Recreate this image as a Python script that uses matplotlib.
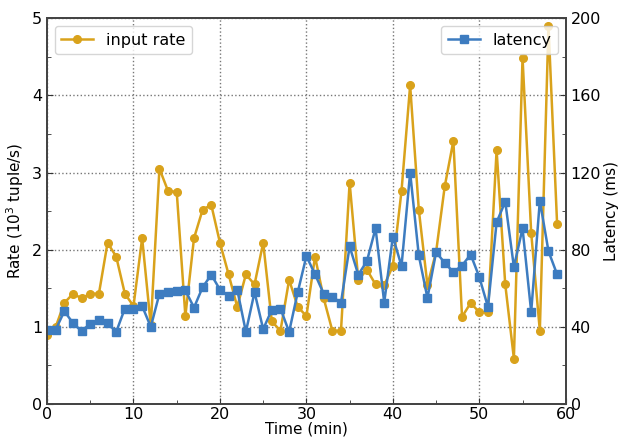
import matplotlib.pyplot as plt
import numpy as np
from matplotlib.ticker import MultipleLocator

# minutes 0..59
minutes = list(range(60))

input_rate = [0.90, 1.00, 1.31, 1.43, 1.37, 1.43, 1.43, 2.09, 1.91, 1.43,
              1.27, 2.15, 1.02, 3.05, 2.76, 2.75, 1.14, 2.15, 2.52, 2.58,
              2.09, 1.68, 1.26, 1.68, 1.55, 2.09, 1.07, 0.95, 1.61, 1.26,
              1.14, 1.91, 1.37, 0.95, 0.95, 2.87, 1.61, 1.74, 1.55, 1.54,
              1.79, 2.76, 4.13, 2.52, 1.54, 1.97, 2.82, 3.41, 1.13, 1.31,
              1.19, 1.19, 3.29, 1.55, 0.59, 4.49, 2.22, 0.95, 4.90, 2.33]

latency = [38.2, 38.6, 48.1, 42.0, 37.7, 41.7, 43.4, 42.0, 37.4, 49.5,
           49.5, 50.8, 40.0, 57.2, 57.9, 58.4, 58.9, 50.0, 60.6, 67.0,
           59.3, 56.0, 59.3, 37.4, 58.0, 38.8, 48.9, 49.5, 37.4, 58.0,
           76.7, 67.2, 57.2, 55.5, 52.6, 81.7, 67.0, 74.1, 91.1, 52.6,
           86.8, 71.5, 120.0, 77.0, 55.0, 78.7, 73.2, 68.4, 71.8, 77.5,
           65.8, 50.3, 94.2, 104.9, 71.0, 91.1, 47.7, 105.4, 79.2, 67.2]

gold = '#D9A21B'
blue = '#3D7CC0'

fig = plt.figure(figsize=(6.19, 4.44), dpi=100)
ax = fig.add_axes([0.076, 0.09, 0.838, 0.869])
ax2 = ax.twinx()

ax.plot(minutes, input_rate, color=gold, marker='o', markersize=5.5,
        linewidth=1.8, label='input rate')
ax2.plot(minutes, latency, color=blue, marker='s', markersize=5.5,
         linewidth=1.8, label='latency')

ax.set_xlim(0, 60)
ax.set_ylim(0, 5)
ax2.set_ylim(0, 200)

ax.xaxis.set_major_locator(MultipleLocator(10))
ax.xaxis.set_minor_locator(MultipleLocator(5))
ax.yaxis.set_major_locator(MultipleLocator(1))
ax.yaxis.set_minor_locator(MultipleLocator(0.5))
ax2.yaxis.set_major_locator(MultipleLocator(40))
ax2.yaxis.set_minor_locator(MultipleLocator(20))

for a in (ax, ax2):
    a.tick_params(which='both', direction='in', labelsize=11.5, color='#333333')
    a.tick_params(which='major', length=4)
    a.tick_params(which='minor', length=3)
    for s in a.spines.values():
        s.set_color('#444444')
        s.set_linewidth(1.3)
ax.tick_params(axis='x', pad=2)

ax.grid(True, which='major', linestyle=':', color='#777777', linewidth=1.0)

ax.set_xlabel('Time (min)', fontsize=11, labelpad=0)
ax.set_ylabel('Rate ($10^3$ tuple/s)', fontsize=11)
ax2.set_ylabel('Latency (ms)', fontsize=11, labelpad=2)

ax.legend(loc='upper left', fontsize=11.5, framealpha=0.8)
ax2.legend(loc='upper right', fontsize=11.5, framealpha=0.8)

fig.savefig('out.png', dpi=100)
